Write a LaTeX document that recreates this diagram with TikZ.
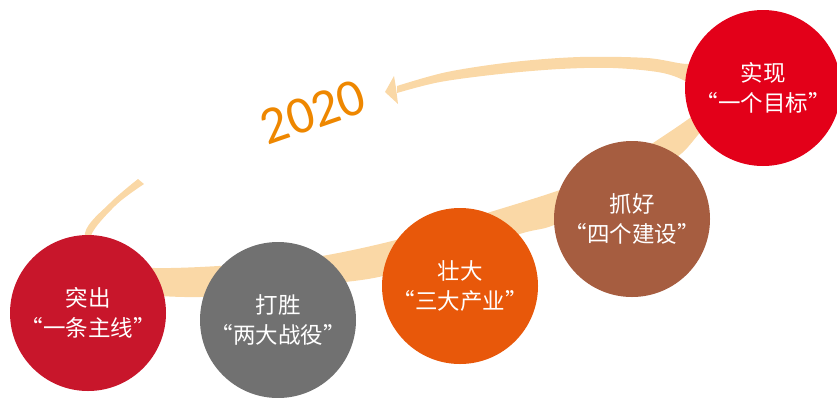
\documentclass[tikz,border=0pt]{standalone}
\usepackage{fontspec}
\newfontfamily\cjk{Noto Sans CJK SC}
\newfontfamily\numfont{Carlito}
\definecolor{bandc}{HTML}{FAD8A6}
\definecolor{cA}{HTML}{C8162B}
\definecolor{cB}{HTML}{717171}
\definecolor{cC}{HTML}{E8580A}
\definecolor{cD}{HTML}{A65D40}
\definecolor{cE}{HTML}{E30019}
\definecolor{yearc}{HTML}{EE8700}
\tikzset{
  circ/.style={circle, minimum size=156pt, inner sep=0pt, draw=none, text=white,
    align=center, font=\cjk\fontsize{22.5}{30}\selectfont},
  yearlabel/.style={text=yearc, font=\numfont\fontsize{53}{53}\selectfont, inner sep=0pt}
}
\begin{document}
\begin{tikzpicture}[x=1pt,y=-1pt]
\useasboundingbox (0,0) rectangle (837,397);
% band
\fill[bandc] plot[smooth,tension=0.55] coordinates {(138,179) (110,203) (85,233) (95,272) (130,293) (160,296) (200,297) (260,294) (330,284) (383,276) (450,255) (523,233) (554,225) (610,198) (655,170) (682,153) (705,127) (735,100) (735,72) (715,60) (687,64) (647,58) (580,57) (513,62) (447,72) (397,86)}
  -- plot[smooth,tension=0.55] coordinates {(397,93) (440,82) (500,74) (560,69) (613,68) (663,73) (690,84) (700,98) (700,110) (653,143) (610,170) (560,190) (487,213) (400,239) (322,256) (260,263) (200,267) (155,268) (130,265) (105,254) (91,236) (116,205) (144,184)} -- cycle;
\fill[bandc] (385,92) -- (394,76) -- (396,88) -- (398,104) -- cycle;
% circles
\node[circ, fill=cA] (a) at (88,313) {突出\\“一条主线”};
\node[circ, fill=cB] (b) at (278,320) {打胜\\“两大战役”};
\node[circ, fill=cC] (c) at (460,286) {壮大\\“三大产业”};
\node[circ, fill=cD] (d) at (632,219) {抓好\\“四个建设”};
\node[circ, fill=cE] (e) at (763,88) {实现\\“一个目标”};
\node[yearlabel, rotate=19] (y) at (313,112) {2020};
\end{tikzpicture}
\end{document}
